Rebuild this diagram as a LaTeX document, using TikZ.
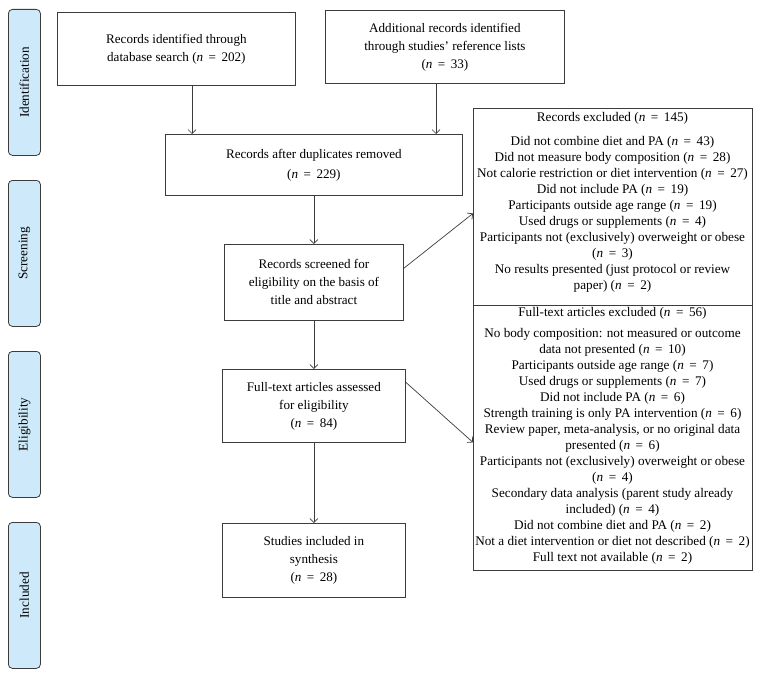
\documentclass[tikz,border=0pt]{standalone}
\usepackage{fontspec}
\setmainfont{Liberation Serif}
\usetikzlibrary{calc,arrows.meta}
\definecolor{sideblue}{RGB}{205,233,250}
\definecolor{lineg}{RGB}{60,60,60}
\newcommand{\nis}{\textit{n}\hspace{0.42em}=\hspace{0.42em}}
\begin{document}
\begin{tikzpicture}[x=1pt,y=-1pt,
  box/.style={draw=lineg, line width=0.8pt, align=center, inner sep=0pt, anchor=north west,
    font=\fontsize{13.1}{18}\selectfont},
  exbox/.style={draw=lineg, line width=0.8pt, inner sep=0pt, anchor=north west},
  extext/.style={align=center, inner sep=0pt, anchor=north, font=\fontsize{13.2}{16}\selectfont},
  side/.style={draw=lineg, fill=sideblue, rounded corners=4pt, line width=0.8pt,
    minimum width=32pt, minimum height=146pt, inner sep=0pt, anchor=north west},
  sidetext/.style={rotate=90, font=\fontsize{13.2}{15}\selectfont, inner sep=0pt},
  arr/.style={-{Straight Barb[length=4pt,width=8pt]}, line width=0.7pt, draw=lineg}]
\useasboundingbox (0,0) rectangle (761,677);

% side bars
\node[side] (s1) at (8,9) {};
\node[side] (s2) at (8,180) {};
\node[side] (s3) at (8,351) {};
\node[side] (s4) at (8,522) {};
\node[sidetext] (t1) at (s1.center) {Identification};
\node[sidetext] (t2) at (s2.center) {Screening};
\node[sidetext] (t3) at (s3.center) {Eligibility};
\node[sidetext] (t4) at (s4.center) {Included};

% main boxes
\node[box, minimum width=238pt, minimum height=73pt] (b1) at (57,12)
  {Records identified through\\database search (\nis 202)};
\node[box, minimum width=239pt, minimum height=73pt] (b2) at (325,10)
  {Additional records identified\\through studies’ reference lists\\(\nis 33)};
\node[box, minimum width=297pt, minimum height=61pt, font=\fontsize{13.1}{20}\selectfont] (b3) at (165,134)
  {Records after duplicates removed\\(\nis 229)};
\node[box, minimum width=179pt, minimum height=76pt] (b4) at (224,244)
  {Records screened for\\eligibility on the basis of\\title and abstract};
\node[box, minimum width=183pt, minimum height=73pt] (b5) at (222,369)
  {Full-text articles assessed\\for eligibility\\(\nis 84)};
\node[box, minimum width=183pt, minimum height=74pt] (b6) at (222,523)
  {Studies included in\\synthesis\\(\nis 28)};

% exclusion boxes
\node[exbox, minimum width=279pt, minimum height=197pt] (ex1) at (473,108) {};
\node[exbox, minimum width=279pt, minimum height=265pt] (ex2) at (473,305) {};
\node[extext] (ex1t) at (612.5,112) {Records excluded (\nis 145)\\[8pt]
Did not combine diet and PA (\nis 43)\\
Did not measure body composition (\nis 28)\\
Not calorie restriction or diet intervention (\nis 27)\\
Did not include PA (\nis 19)\\
Participants outside age range (\nis 19)\\
Used drugs or supplements (\nis 4)\\
Participants not (exclusively) overweight or obese\\
(\nis 3)\\
No results presented (just protocol or review\\
paper) (\nis 2)};
\node[extext] (ex2t) at (612.5,307) {Full-text articles excluded (\nis 56)\\[5pt]
No body composition: not measured or outcome\\
data not presented (\nis 10)\\
Participants outside age range (\nis 7)\\
Used drugs or supplements (\nis 7)\\
Did not include PA (\nis 6)\\
Strength training is only PA intervention (\nis 6)\\
Review paper, meta-analysis, or no original data\\
presented (\nis 6)\\
Participants not (exclusively) overweight or obese\\
(\nis 4)\\
Secondary data analysis (parent study already\\
included) (\nis 4)\\
Did not combine diet and PA (\nis 2)\\
Not a diet intervention or diet not described (\nis 2)\\
Full text not available (\nis 2)};

% connectors
\draw[arr] (b1.south -| 192,0) -- (b3.north -| 192,0);
\draw[arr] (b2.south -| 436,0) -- (b3.north -| 436,0);
\draw[arr] (b3.south) -- (b4.north);
\draw[arr] (b4.south) -- (b5.north);
\draw[arr] (b5.south) -- (b6.north);
\draw[arr] ($(b4.north east)!0.316!(b4.south east)$) -- ($(ex1.north west)!0.533!(ex1.south west)$);
\draw[arr] ($(b5.north east)!0.18!(b5.south east)$) -- ($(ex2.north west)!0.517!(ex2.south west)$);
\end{tikzpicture}
\end{document}
